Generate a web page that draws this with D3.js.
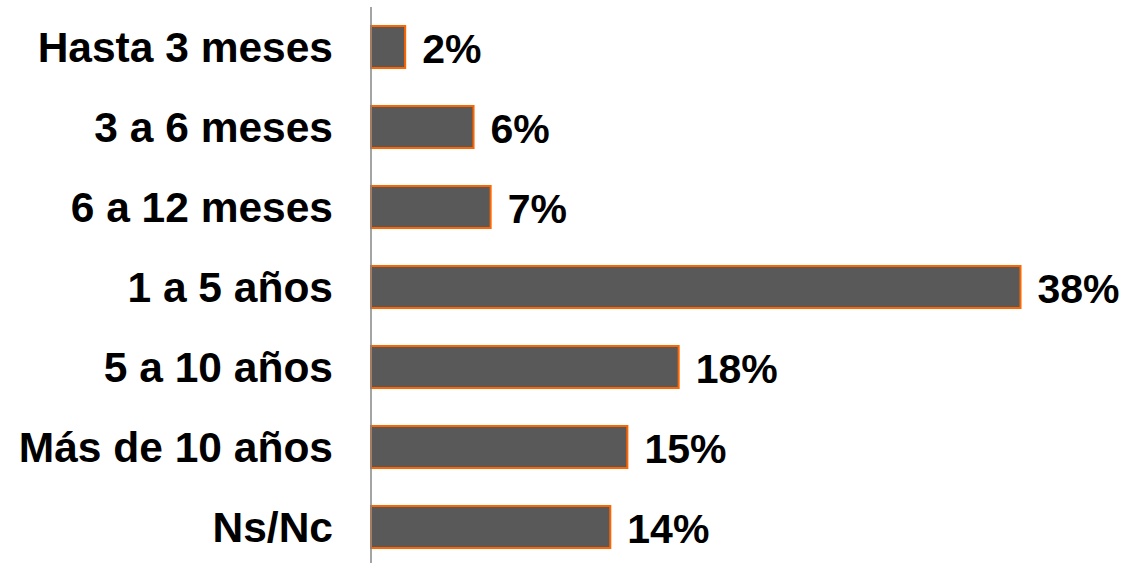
<!DOCTYPE html>
<meta charset="utf-8">
<style>
body { margin: 0; background: #fff; }
text { font-family: 'Liberation Sans', Arial, sans-serif; font-weight: bold; fill: #000; }
.catLabel { font-size: 42.5px; }
.valLabel { font-size: 41px; }
</style>
<body>
<script src="https://d3js.org/d3.v7.min.js"></script>
<script>
    const categories = ["Hasta 3 meses", "3 a 6 meses", "6 a 12 meses", "1 a 5 años", "5 a 10 años", "Más de 10 años", "Ns/Nc"];
    const values = [2, 6, 7, 38, 18, 15, 14];

    let width = 1129,
        height = 563,
        axisX = 371;

    let svg = d3.select("body").append("svg")
        .attr("width", width)
        .attr("height", height);

    let x = d3.scaleLinear()
        .domain([0, 38])
        .range([axisX, 1020.5]);

    let y = d3.scaleBand()
        .domain(categories)
        .range([7, 567])
        .paddingInner(0.475)
        .paddingOuter(0.2375);

    const data = categories.map((c, i) => ({ cat: c, val: values[i] }));

    // bars
    svg.append("g")
        .selectAll("rect")
        .data(data)
        .join("rect")
            .attr("x", x(0))
            .attr("y", d => y(d.cat))
            .attr("width", d => x(d.val) - x(0))
            .attr("height", y.bandwidth())
            .attr("fill", "#595959")
            .attr("stroke", "#ff6600")
            .attr("stroke-width", 2);

    // vertical axis line
    svg.append("line")
        .attr("x1", axisX).attr("x2", axisX)
        .attr("y1", 7).attr("y2", height)
        .attr("stroke", "#868686")
        .attr("stroke-width", 1.5);

    // category labels
    svg.append("g")
        .selectAll("text")
        .data(data)
        .join("text")
            .attr("class", "catLabel")
            .attr("x", 333)
            .attr("y", d => y(d.cat) + y.bandwidth() / 2)
            .attr("dy", "0.36em")
            .attr("text-anchor", "end")
            .text(d => d.cat);

    // value labels
    svg.append("g")
        .selectAll("text")
        .data(data)
        .join("text")
            .attr("class", "valLabel")
            .attr("x", d => x(d.val) + 17)
            .attr("y", d => y(d.cat) + y.bandwidth() / 2)
            .attr("dy", "0.38em")
            .text(d => d.val + "%");
</script>
